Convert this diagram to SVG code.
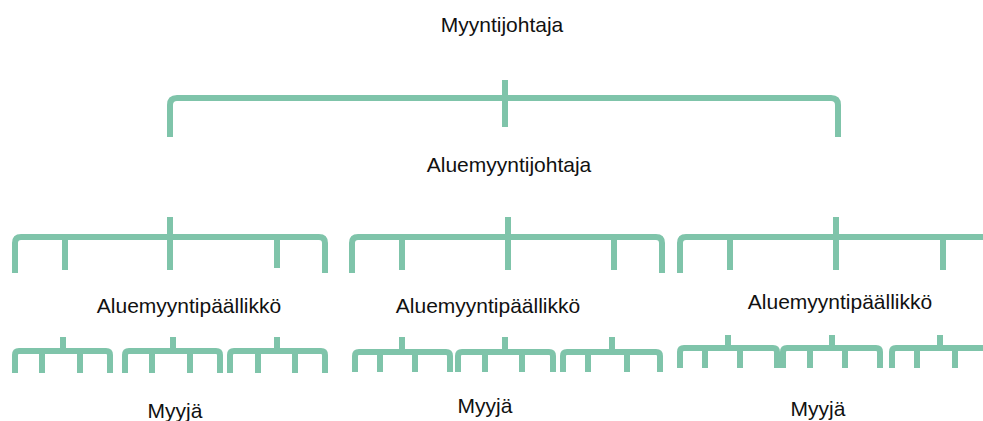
<svg xmlns="http://www.w3.org/2000/svg" width="983" height="421" viewBox="0 0 983 421">
<style>
.ln{fill:none;stroke:#7fc4aa;stroke-linecap:butt;stroke-linejoin:round}
.l1{stroke-width:6}
.l2{stroke-width:6}
.l3{stroke-width:6}
.t{font-family:"Liberation Sans",Arial,sans-serif;font-size:21px;fill:#111;text-anchor:middle}
</style>
<rect width="983" height="421" fill="#ffffff"/>
<g id="connectors">
  <path class="ln l1" d="M170 137 V105 Q170 98 177 98 H831 Q838 98 838 105 V137 M505 80 V127"/>
  <path class="ln l2" d="M15 273 V243 Q15 237 21 237 H319 Q325 237 325 243 V273 M65 237 V270 M277 237 V268 M170 217 V270"/>
  <path class="ln l2" d="M352 273 V243 Q352 237 358 237 H656 Q662 237 662 243 V273 M402 237 V270 M614 237 V270 M508 217 V270"/>
  <path class="ln l2" d="M680 273 V243 Q680 237 686 237 H984 Q990 237 990 243 V273 M730 237 V270 M943 237 V270 M836 217 V270"/>
  <path class="ln l3" d="M15 373 V355 Q15 351 19 351 H106 Q110 351 110 355 V373 M42 351 V373 M80 351 V373 M63 337 V351"/>
  <path class="ln l3" d="M125 373 V355 Q125 351 129 351 H216 Q220 351 220 355 V373 M152 351 V373 M190 351 V373 M173 337 V351"/>
  <path class="ln l3" d="M230 373 V355 Q230 351 234 351 H321 Q325 351 325 355 V373 M258 351 V373 M295 351 V373 M277 337 V351"/>
  <path class="ln l3" d="M355 372 V356 Q355 352 359 352 H446 Q450 352 450 356 V372 M380 352 V372 M415 352 V372 M402 337 V352"/>
  <path class="ln l3" d="M458 372 V356 Q458 352 462 352 H549 Q553 352 553 356 V372 M485 352 V372 M522 352 V372 M505 337 V352"/>
  <path class="ln l3" d="M563 372 V356 Q563 352 567 352 H656 Q660 352 660 356 V372 M588 352 V372 M627 352 V372 M612 337 V352"/>
  <path class="ln l3" d="M680 368 V352 Q680 348 684 348 H773 Q777 348 777 352 V368 M705 348 V368 M740 348 V368 M728 335 V348"/>
  <path class="ln l3" d="M783 368 V352 Q783 348 787 348 H876 Q880 348 880 352 V368 M810 348 V368 M845 348 V368 M832 335 V348"/>
  <path class="ln l3" d="M892 368 V352 Q892 348 896 348 H986 Q990 348 990 352 V368 M917 348 V368 M955 348 V368 M940 335 V348"/>
</g>
<g id="myyntijohtaja"><text class="t" x="502" y="32">Myyntijohtaja</text></g>
<g id="aluemyyntijohtaja"><text class="t" x="509" y="172">Aluemyyntijohtaja</text></g>
<g id="aluemyyntipaallikko-1"><text class="t" x="189" y="313">Aluemyyntipäällikkö</text></g>
<g id="aluemyyntipaallikko-2"><text class="t" x="488" y="313">Aluemyyntipäällikkö</text></g>
<g id="aluemyyntipaallikko-3"><text class="t" x="840" y="309">Aluemyyntipäällikkö</text></g>
<g id="myyja-1"><text class="t" x="175" y="418">Myyjä</text></g>
<g id="myyja-2"><text class="t" x="485" y="413">Myyjä</text></g>
<g id="myyja-3"><text class="t" x="818" y="416">Myyjä</text></g>
</svg>
